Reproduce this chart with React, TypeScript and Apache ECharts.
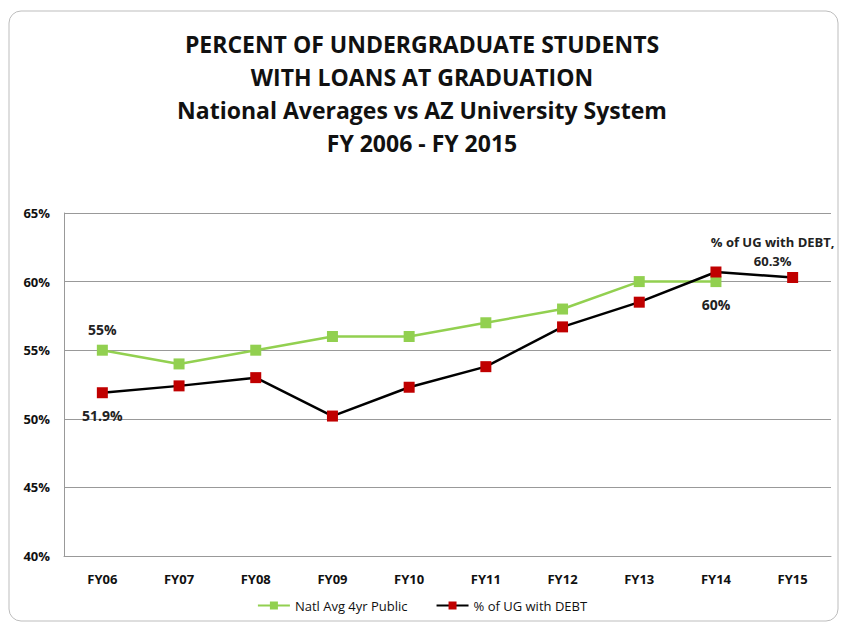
import React, { useEffect, useRef } from "react";
import * as echarts from "echarts";

const categories = ["FY06", "FY07", "FY08", "FY09", "FY10", "FY11", "FY12", "FY13", "FY14", "FY15"];
const natlAvg: (number | null)[] = [55, 54, 55, 56, 56, 57, 58, 60, 60, null];
const ugDebt: number[] = [51.9, 52.4, 53.0, 50.2, 52.3, 53.8, 56.7, 58.5, 60.7, 60.3];
const titleLines = [
  "PERCENT OF UNDERGRADUATE STUDENTS",
  "WITH LOANS AT GRADUATION",
  "National Averages vs AZ University System",
  "FY 2006 - FY 2015",
];
const seriesNames = ["Natl Avg 4yr Public", "% of UG with DEBT"];

const FONT = "'Open Sans', sans-serif";

export default function App() {
  const ref = useRef<HTMLDivElement>(null);
  useEffect(() => {
    if (!ref.current) return;
    const chart = echarts.init(ref.current, null, { renderer: "svg" });
    const labelStyle = { fontFamily: FONT, fontWeight: "bold" as const, fontSize: 14, color: "#222" };
    chart.setOption({
      animation: false,
      backgroundColor: "#fff",
      textStyle: { fontFamily: FONT },
      title: {
        text: titleLines.join("\n"),
        left: "center",
        top: 22,
        textStyle: { fontFamily: FONT, fontWeight: "bold", fontSize: 23, lineHeight: 33, color: "#111" },
      },
      graphic: [
        {
          type: "rect",
          shape: { x: 9, y: 11, width: 829, height: 610, r: 12 },
          style: { fill: "none", stroke: "#bdbdbd", lineWidth: 1 },
          silent: true,
          z: -1,
        },
      ],
      grid: { left: 64, right: 13, top: 213, bottom: 71 },
      legend: {
        bottom: 10,
        left: "center",
        itemWidth: 32,
        itemHeight: 10,
        itemGap: 28,
        textStyle: { fontFamily: FONT, fontSize: 13, color: "#111" },
        data: seriesNames,
      },
      xAxis: {
        type: "category",
        data: categories,
        boundaryGap: true,
        axisLine: { lineStyle: { color: "#999" } },
        axisTick: { show: false },
        axisLabel: { ...labelStyle, fontSize: 13, margin: 16, color: "#111" },
      },
      yAxis: {
        type: "value",
        min: 40,
        max: 65,
        interval: 5,
        axisLine: { show: true, lineStyle: { color: "#999" } },
        axisTick: { show: false },
        splitLine: { lineStyle: { color: "#999" } },
        axisLabel: { ...labelStyle, fontSize: 13, margin: 14, color: "#111", formatter: (v: number) => v + "%" },
      },
      series: [
        {
          name: seriesNames[0],
          type: "line",
          data: natlAvg.map((v, i) => {
            if (i === 0) return { value: v, label: { show: true, position: "top", distance: 8, formatter: "55%" } };
            if (i === 8) return { value: v, label: { show: true, position: "bottom", distance: 10, formatter: "60%" } };
            return v;
          }),
          symbol: "rect",
          symbolSize: 11,
          lineStyle: { color: "#92D050", width: 2.5 },
          itemStyle: { color: "#92D050" },
          label: { show: false, ...labelStyle },
          z: 2,
        },
        {
          name: seriesNames[1],
          type: "line",
          data: ugDebt.map((v, i) => {
            if (i === 0) return { value: v, label: { show: true, position: "bottom", distance: 10, formatter: "51.9%" } };
            if (i === 9)
              return {
                value: v,
                label: {
                  show: true,
                  position: "top",
                  distance: 1,
                  offset: [-20, 0],
                  fontSize: 13,
                  lineHeight: 19,
                  formatter: "% of UG with DEBT,\n60.3%",
                },
              };
            return v;
          }),
          symbol: "rect",
          symbolSize: 11,
          lineStyle: { color: "#000", width: 2.5 },
          itemStyle: { color: "#C00000" },
          label: { show: false, ...labelStyle },
          z: 3,
        },
      ],
    });
    return () => chart.dispose();
  }, []);
  return <div ref={ref} style={{ position: "fixed", left: 0, top: 0, width: 844, height: 627 }} />;
}
